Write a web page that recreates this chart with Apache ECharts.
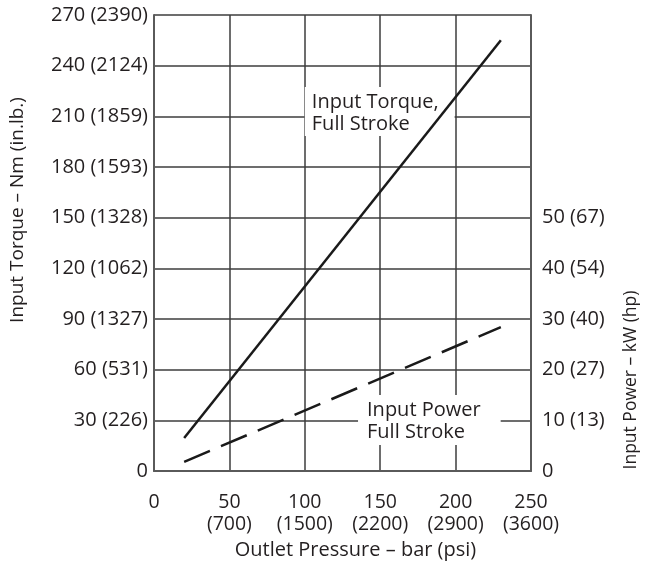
<!DOCTYPE html>
<html>
<head>
<meta charset="utf-8">
<script src="https://cdn.jsdelivr.net/npm/echarts@6/dist/echarts.min.js"></script>
<style>
html,body{margin:0;padding:0;background:#fff;}
#chart{width:649px;height:570px;}
</style>
</head>
<body>
<div id="chart"></div>
<script>
// ---- data ----
const pressureTicks = [0, 50, 100, 150, 200, 250];
const pressureTickLabels = ['0', '50\n(700)', '100\n(1500)', '150\n(2200)', '200\n(2900)', '250\n(3600)'];
const torqueTicks = [0, 30, 60, 90, 120, 150, 180, 210, 240, 270];
const torqueTickLabels = ['0', '30 (226)', '60 (531)', '90 (1327)', '120 (1062)', '150 (1328)', '180 (1593)', '210 (1859)', '240 (2124)', '270 (2390)'];
const powerTicks = [0, 10, 20, 30, 40, 50];
const powerTickLabels = ['0', '10 (13)', '20 (27)', '30 (40)', '40 (54)', '50 (67)'];

const torquePressure = [20, 230];
const torqueValues = [19.5, 255];
const powerPressure = [20, 230];
const powerValues = [1.8, 28.4];

const torqueNote = ['Input Torque,', 'Full Stroke'];
const torqueNoteAt = [100, 227.4];
const powerNote = ['Input Power', 'Full Stroke'];
const powerNoteAt = [135.3, 45];

// ---- chart ----
const FONT = '"Open Sans", sans-serif';
const TXT = '#231f20';
const chart = echarts.init(document.getElementById('chart'), null, {renderer: 'canvas'});

function lookup(ticks, labels) {
  return function (v) {
    const i = ticks.indexOf(v);
    return i >= 0 ? labels[i] : '';
  };
}

const noteLabel = (pad) => ({
  show: true,
  position: [0, 0],
  align: 'left',
  verticalAlign: 'top',
  formatter: (p) => p.name,
  fontFamily: FONT,
  fontSize: 20,
  lineHeight: 22,
  color: TXT,
  opacity: 1,
  textBorderWidth: 0,
  textBorderColor: 'transparent',
  backgroundColor: '#ffffff',
  padding: pad
});

chart.setOption({
  animation: false,
  backgroundColor: '#ffffff',
  grid: {left: 154, top: 15, width: 377, height: 456, containLabel: false},
  xAxis: {
    type: 'value', min: 0, max: 250, interval: 50,
    name: 'Outlet Pressure – bar (psi)',
    nameLocation: 'middle', nameGap: 69,
    nameTextStyle: {fontFamily: FONT, fontSize: 20, color: TXT, padding: [0, 0, 0, 26]},
    axisLine: {show: true, onZero: false, lineStyle: {color: '#5a5a5a', width: 2}},
    axisTick: {show: false},
    axisLabel: {
      formatter: lookup(pressureTicks, pressureTickLabels),
      fontFamily: FONT, fontSize: 19.5, lineHeight: 22, color: TXT, margin: 20,
      verticalAlign: 'top'
    },
    splitLine: {show: true, lineStyle: {color: '#3c3c3c', width: 1.5}}
  },
  yAxis: [
    {
      type: 'value', min: 0, max: 270, interval: 30, position: 'left',
      name: 'Input Torque – Nm (in.lb.)',
      nameLocation: 'middle', nameGap: 127, nameRotate: 90,
      nameTextStyle: {fontFamily: FONT, fontSize: 19, color: TXT, padding: [0, 0, 0, 66]},
      axisLine: {show: true, lineStyle: {color: '#5a5a5a', width: 2}},
      axisTick: {show: false},
      axisLabel: {
        formatter: lookup(torqueTicks, torqueTickLabels),
        fontFamily: FONT, fontSize: 20, color: TXT, margin: 6
      },
      splitLine: {show: true, lineStyle: {color: '#3c3c3c', width: 1.5}}
    },
    {
      type: 'value', min: 0, max: 90, interval: 10, position: 'right',
      name: 'Input Power – kW (hp)',
      nameLocation: 'middle', nameGap: 91, nameRotate: 90,
      nameTextStyle: {fontFamily: FONT, fontSize: 17.5, color: TXT, padding: [0, 274, 0, 0]},
      axisLine: {show: true, lineStyle: {color: '#5a5a5a', width: 2}},
      axisTick: {show: false},
      axisLabel: {
        formatter: lookup(powerTicks, powerTickLabels),
        fontFamily: FONT, fontSize: 20, color: TXT, margin: 11
      },
      splitLine: {show: false}
    }
  ],
  series: [
    {
      type: 'scatter', yAxisIndex: 0, z: 1, silent: true,
      symbol: 'rect', symbolSize: 0,
      itemStyle: {color: '#ffffff', opacity: 1},
      emphasis: {disabled: true},
      data: [{name: torqueNote.join('\n'), value: torqueNoteAt, label: noteLabel([4, 16, 1, 7])},
             {name: powerNote.join('\n'), value: powerNoteAt, label: noteLabel([4, 20, 2, 9])}]
    },
    {
      type: 'line', yAxisIndex: 0, z: 3, showSymbol: false, silent: true,
      data: torquePressure.map((p, i) => [p, torqueValues[i]]),
      lineStyle: {color: '#1a1a1a', width: 2.5, type: 'solid'}
    },
    {
      type: 'line', yAxisIndex: 1, z: 3, showSymbol: false, silent: true,
      data: powerPressure.map((p, i) => [p, powerValues[i]]),
      lineStyle: {color: '#1a1a1a', width: 2.5, type: [28, 12]}
    }
  ]
});
</script>
</body>
</html>
